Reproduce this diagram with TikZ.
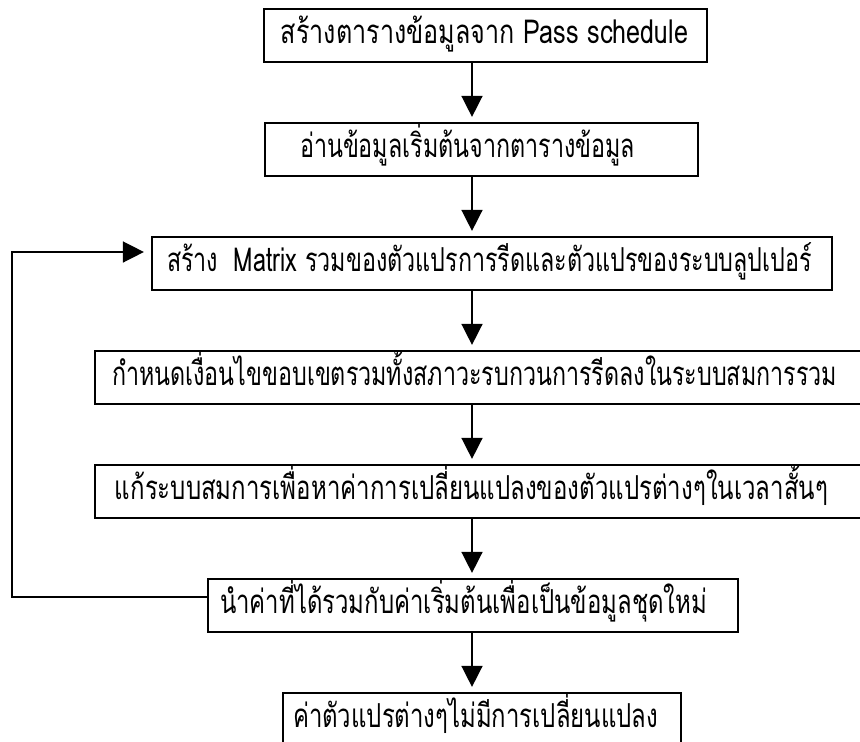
\documentclass[tikz,border=0pt]{standalone}
\usepackage{fontspec}
\usepackage{graphicx}
\newfontfamily\thaifont[Script=Thai]{Loma}
\usetikzlibrary{arrows.meta}
\newcommand{\fitw}[2]{\resizebox{#1pt}{\height}{\thaifont\fontsize{33}{35}\selectfont #2}}
\begin{document}
\begin{tikzpicture}[x=1pt,y=-1pt,
  box/.style={draw, line width=2.2pt, inner sep=0pt, minimum height=53pt},
  txt/.style={anchor=base, inner sep=0pt},
  conn/.style={line width=1.5pt, -{Triangle[length=21pt,width=21pt]}}
]
\useasboundingbox (0,0) rectangle (860,742);
\clip (0,0) rectangle (860,742);
% boxes
\node[box, minimum width=443pt] (b1) at (485.5,35.5) {};
\node[box, minimum width=433pt] (b2) at (481.5,149.5) {};
\node[box, minimum width=680pt] (b3) at (492,263.5) {};
\node[box, minimum width=805pt] (b4) at (497.5,377.5) {};
\node[box, minimum width=805pt] (b5) at (497.5,491.5) {};
\node[box, minimum width=530pt] (b6) at (473,605.5) {};
\node[box, minimum width=398pt] (b7) at (482,719.5) {};
% texts
\node[txt] (t1) at (484.5,43.5) {\fitw{407}{สร้างตารางข้อมูลจาก Pass schedule}};
\node[txt] (t2) at (467.5,157.5) {\fitw{335}{อ่านข้อมูลเริ่มต้นจากตารางข้อมูล}};
\node[txt] (t3) at (489.5,271.5) {\fitw{645}{สร้าง\ \ Matrix รวมของตัวแปรการรีดและตัวแปรของระบบลูปเปอร์}};
\node[txt] (t4) at (474.5,385.5) {\fitw{725}{กำหนดเงื่อนไขขอบเขตรวมทั้งสภาวะรบกวนการรีดลงในระบบสมการรวม}};
\node[txt] (t5) at (471.5,499.5) {\fitw{713}{แก้ระบบสมการเพื่อหาค่าการเปลี่ยนแปลงของตัวแปรต่างๆในเวลาสั้นๆ}};
\node[txt] (t6) at (463.5,613.5) {\fitw{487}{นำค่าที่ได้รวมกับค่าเริ่มต้นเพื่อเป็นข้อมูลชุดใหม่}};
\node[txt] (t7) at (475.5,727) {\fitw{365}{ค่าตัวแปรต่างๆไม่มีการเปลี่ยนแปลง}};
% connectors
\coordinate (ax) at (472,0);
\draw[conn, shorten >=5pt] (b1.south -| ax) -- (b2.north -| ax);
\draw[conn, shorten >=5pt] (b2.south -| ax) -- (b3.north -| ax);
\draw[conn, shorten >=5pt] (b3.south -| ax) -- (b4.north -| ax);
\draw[conn, shorten >=5pt] (b4.south -| ax) -- (b5.north -| ax);
\draw[conn, shorten >=5pt] (b5.south -| ax) -- (b6.north -| ax);
\draw[conn, shorten >=5pt] (b6.south -| ax) -- (b7.north -| ax);
% feedback loop
\coordinate (fb1) at (12,597);
\coordinate (fb2) at (12,252);
\draw[conn, shorten >=7pt] (b6.west |- fb1) -- (fb1) -- (fb2) -- (b3.west |- fb2);
\end{tikzpicture}
\end{document}
